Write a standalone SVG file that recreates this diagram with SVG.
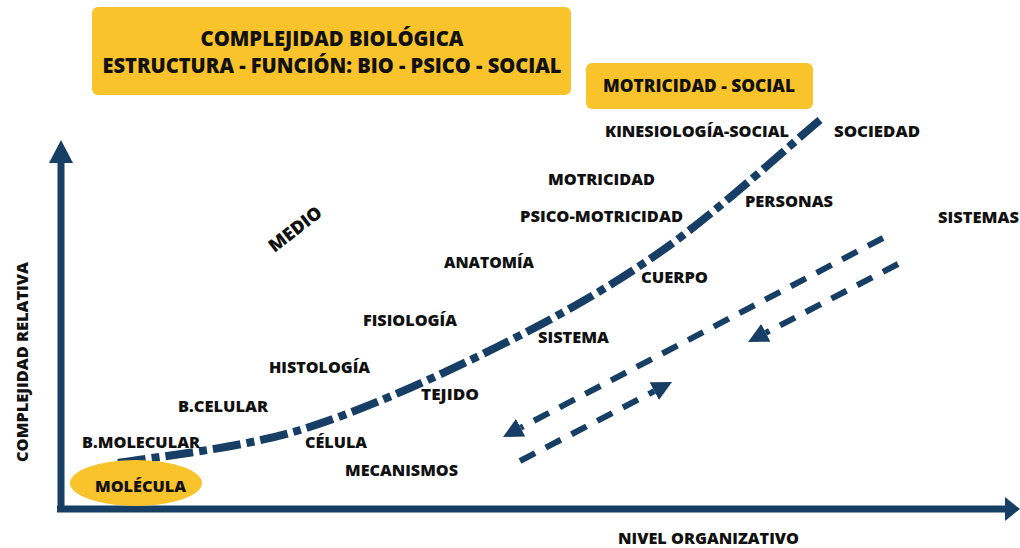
<svg xmlns="http://www.w3.org/2000/svg" width="1020" height="548" viewBox="0 0 1020 548">
<style>
  .lbl { font-family: "Open Sans", "Liberation Sans", sans-serif; font-weight: 800; font-size: 16.5px; fill: #111; }
  .ttl { font-family: "Open Sans", "Liberation Sans", sans-serif; font-weight: 800; font-size: 20.5px; fill: #111; }
  .box { fill: #F9C32B; }
  .axis { stroke: #173F66; stroke-width: 7; fill: none; }
  .curve { stroke: #173F66; stroke-width: 8; fill: none; stroke-dasharray: 28 6 8 6; }
  .dash { stroke: #173F66; stroke-width: 6; fill: none; stroke-dasharray: 17 12; }
  .head { fill: #173F66; }
</style>
<defs>
  <marker id="arr" viewBox="0 0 20 20" refX="0" refY="10" markerWidth="20" markerHeight="20" markerUnits="userSpaceOnUse" orient="auto">
    <path d="M0,0 L20,10 L0,20 z" class="head"/>
  </marker>
</defs>
<rect width="1020" height="548" fill="#fff"/>

<g id="title">
  <rect class="box" x="92" y="7" width="479" height="88" rx="6"/>
  <text class="ttl" x="332" y="46" text-anchor="middle" textLength="263" lengthAdjust="spacingAndGlyphs">COMPLEJIDAD BIOLÓGICA</text>
  <text class="ttl" x="332" y="73" text-anchor="middle" textLength="459" lengthAdjust="spacingAndGlyphs">ESTRUCTURA - FUNCIÓN: BIO - PSICO - SOCIAL</text>
</g>
<g id="motricidad-social">
  <rect class="box" x="586" y="63" width="227" height="46" rx="6"/>
  <text class="lbl" x="603" y="92" style="font-size:17.5px" textLength="192" lengthAdjust="spacingAndGlyphs">MOTRICIDAD - SOCIAL</text>
</g>

<g id="connectors">
  <g id="axes">
    <line class="axis" x1="61" y1="512" x2="61" y2="158"/>
    <polygon class="head" points="61,140 49,163 73,163"/>
    <line class="axis" x1="57" y1="509" x2="1008" y2="509"/>
    <polygon class="head" points="1020,509 1005,497 1005,521"/>
  </g>
  <path id="curve" class="curve" d="M118,463 C148.3,457.5 236.8,449.3 300,430 C363.2,410.7 436.5,377 497,347 C557.5,317 609.2,287.8 663,250 C716.8,212.2 793.8,141.7 820,120"/>
  <path id="flow-down-1" class="dash" d="M883,238 L520.7,427.7" marker-end="url(#arr)"/>
  <path id="flow-down-2" class="dash" d="M898,264 L765.8,332.8" marker-end="url(#arr)"/>
  <path id="flow-up" class="dash" d="M520,461 L654.3,391.2" marker-end="url(#arr)"/>
</g>

<g id="molecula">
  <ellipse class="box" cx="136" cy="483" rx="66" ry="23"/>
  <text class="lbl" x="95" y="492" textLength="91" lengthAdjust="spacingAndGlyphs">MOLÉCULA</text>
</g>
<g id="y-label"><text class="lbl" transform="translate(28,462) rotate(-90)" x="0" y="0" textLength="200" lengthAdjust="spacingAndGlyphs">COMPLEJIDAD RELATIVA</text></g>
<g id="x-label"><text class="lbl" x="618" y="544" textLength="181" lengthAdjust="spacingAndGlyphs">NIVEL ORGANIZATIVO</text></g>
<g id="medio"><text class="lbl" style="font-size:18px" transform="translate(299,234) rotate(-38)" x="0" y="0" text-anchor="middle" textLength="62" lengthAdjust="spacingAndGlyphs">MEDIO</text></g>
<g id="kinesiologia-social"><text class="lbl" x="605" y="137" textLength="184" lengthAdjust="spacingAndGlyphs">KINESIOLOGÍA-SOCIAL</text></g>
<g id="sociedad"><text class="lbl" x="834" y="137" textLength="86" lengthAdjust="spacingAndGlyphs">SOCIEDAD</text></g>
<g id="motricidad"><text class="lbl" x="548" y="185" textLength="107" lengthAdjust="spacingAndGlyphs">MOTRICIDAD</text></g>
<g id="psico-motricidad"><text class="lbl" x="520" y="222" textLength="163" lengthAdjust="spacingAndGlyphs">PSICO-MOTRICIDAD</text></g>
<g id="personas"><text class="lbl" x="745" y="207" textLength="88" lengthAdjust="spacingAndGlyphs">PERSONAS</text></g>
<g id="sistemas"><text class="lbl" x="938" y="223" textLength="81" lengthAdjust="spacingAndGlyphs">SISTEMAS</text></g>
<g id="anatomia"><text class="lbl" x="444" y="268" textLength="90" lengthAdjust="spacingAndGlyphs">ANATOMÍA</text></g>
<g id="cuerpo"><text class="lbl" x="641" y="283" textLength="67" lengthAdjust="spacingAndGlyphs">CUERPO</text></g>
<g id="fisiologia"><text class="lbl" x="363" y="326" textLength="94" lengthAdjust="spacingAndGlyphs">FISIOLOGÍA</text></g>
<g id="sistema"><text class="lbl" x="538" y="343" textLength="71" lengthAdjust="spacingAndGlyphs">SISTEMA</text></g>
<g id="histologia"><text class="lbl" x="269" y="373" textLength="101" lengthAdjust="spacingAndGlyphs">HISTOLOGÍA</text></g>
<g id="tejido"><text class="lbl" x="421" y="400" textLength="58" lengthAdjust="spacingAndGlyphs">TEJIDO</text></g>
<g id="b-celular"><text class="lbl" x="178" y="412" textLength="90" lengthAdjust="spacingAndGlyphs">B.CELULAR</text></g>
<g id="b-molecular"><text class="lbl" x="82" y="448" textLength="118" lengthAdjust="spacingAndGlyphs">B.MOLECULAR</text></g>
<g id="celula"><text class="lbl" x="305" y="448" textLength="62" lengthAdjust="spacingAndGlyphs">CÉLULA</text></g>
<g id="mecanismos"><text class="lbl" x="345" y="476" textLength="113" lengthAdjust="spacingAndGlyphs">MECANISMOS</text></g>
</svg>
